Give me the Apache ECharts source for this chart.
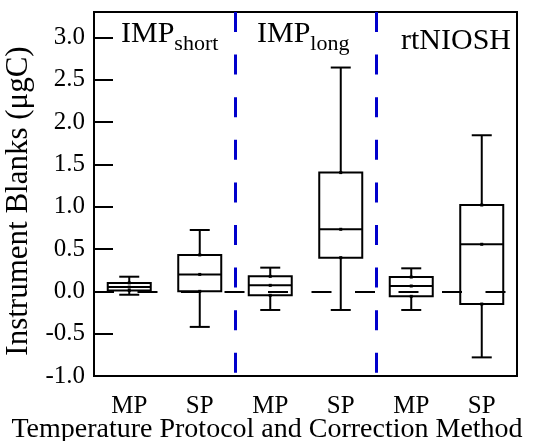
<!DOCTYPE html>
<html>
<head>
<meta charset="utf-8">
<script src="https://cdn.jsdelivr.net/npm/echarts@6/dist/echarts.min.js"></script>
<style>
  html, body { margin: 0; padding: 0; background: #fff; }
  #chart { width: 534px; height: 441px; }
</style>
</head>
<body>
<div id="chart"></div>
<script>
var categories = ['MP', 'SP', 'MP', 'SP', 'MP', 'SP'];
var whiskerLow = [-0.04, -0.42, -0.22, -0.22, -0.22, -0.78];
var quartile1 = [0.01, 0.0, -0.047, 0.398, -0.059, -0.15];
var medians = [0.05, 0.20, 0.071, 0.733, 0.063, 0.556];
var quartile3 = [0.10, 0.43, 0.177, 1.403, 0.169, 1.02];
var whiskerHigh = [0.173, 0.725, 0.28, 2.644, 0.272, 1.844];
var dividers = [2, 4];

var serif = 'Liberation Serif, Times New Roman, serif';

var boxData = [];
for (var i = 0; i < categories.length; i++) {
    boxData.push([i, whiskerLow[i], quartile1[i], medians[i], quartile3[i], whiskerHigh[i]]);
}

function renderBox(params, api) {
    var i = api.value(0);
    var lo = api.coord([i, api.value(1)]);
    var b1 = api.coord([i, api.value(2)]);
    var md = api.coord([i, api.value(3)]);
    var b3 = api.coord([i, api.value(4)]);
    var hi = api.coord([i, api.value(5)]);
    var bw = api.size([1, 0])[0] * 0.61;
    var cw = 20;
    var x = md[0];
    var st = { stroke: '#000', lineWidth: 2, fill: 'none' };
    function dot(y) {
        return { type: 'rect', shape: { x: x - 1.5, y: y - 1.5, width: 3, height: 3 }, style: { fill: '#000' } };
    }
    return {
        type: 'group',
        children: [
            { type: 'rect', shape: { x: x - bw / 2, y: b3[1], width: bw, height: b1[1] - b3[1] }, style: st },
            { type: 'line', shape: { x1: x - bw / 2, y1: md[1], x2: x + bw / 2, y2: md[1] }, style: st },
            { type: 'line', shape: { x1: x, y1: b3[1], x2: x, y2: hi[1] }, style: st },
            { type: 'line', shape: { x1: x, y1: b1[1], x2: x, y2: lo[1] }, style: st },
            { type: 'line', shape: { x1: x - cw / 2, y1: hi[1], x2: x + cw / 2, y2: hi[1] }, style: st },
            { type: 'line', shape: { x1: x - cw / 2, y1: lo[1], x2: x + cw / 2, y2: lo[1] }, style: st },
            dot(b3[1]), dot(md[1]), dot(b1[1])
        ]
    };
}

var chart = echarts.init(document.getElementById('chart'));

var dividerLines = dividers.map(function (d) {
    return [{ coord: [d, 3.3] }, { coord: [d, -1] }];
});

var groupRich = {
    m: { fontFamily: serif, fontSize: 30, fontWeight: 'normal', color: '#000', lineHeight: 30, verticalAlign: 'top' },
    s: { fontFamily: serif, fontSize: 22, fontWeight: 'normal', color: '#000', lineHeight: 20, verticalAlign: 'top', padding: [14, 0, 0, 0] }
};

chart.setOption({
    animation: false,
    backgroundColor: '#fff',
    title: [
        {
            text: '{m|IMP}{s|short}', left: 121, top: 19, padding: 0,
            textStyle: { fontWeight: 'normal', rich: groupRich }
        },
        {
            text: '{m|IMP}{s|long}', left: 257, top: 19, padding: 0,
            textStyle: { fontWeight: 'normal', rich: groupRich }
        },
        {
            text: 'rtNIOSH', left: 401, top: 26, padding: 0,
            textStyle: { fontFamily: serif, fontSize: 30, fontWeight: 'normal', color: '#000' }
        },
        {
            text: 'Temperature Protocol and Correction Method', left: 'center', top: 416, padding: 0,
            textStyle: { fontFamily: serif, fontSize: 28, fontWeight: 'normal', color: '#000' }
        }
    ],
    grid: {
        left: 94, right: 17, top: 12, bottom: 65,
        outerBoundsMode: 'none',
        containLabel: false,
        show: true, borderColor: '#000', borderWidth: 2
    },
    xAxis: [
        {
            type: 'category',
            data: categories,
            axisLine: { onZero: false, lineStyle: { color: '#000', width: 2 } },
            axisTick: { show: false },
            axisLabel: { color: '#000', fontFamily: serif, fontSize: 25, margin: 18 },
            splitLine: { show: false }
        },
        {
            type: 'value', min: 0, max: 6, show: false
        }
    ],
    yAxis: {
        type: 'value',
        min: -1, max: 3.3, interval: 0.5,
        name: 'Instrument Blanks (μgC)',
        nameLocation: 'middle',
        nameGap: 51,
        nameTextStyle: { color: '#000', fontFamily: serif, fontSize: 31, padding: [0, 14, 0, 0] },
        axisLine: { show: true, lineStyle: { color: '#000', width: 2 } },
        axisTick: { show: true, inside: true, length: 19, lineStyle: { color: '#000', width: 2 } },
        axisLabel: {
            color: '#000', fontFamily: serif, fontSize: 25, margin: 9,
            showMaxLabel: false,
            formatter: function (v) { return v.toFixed(1); }
        },
        splitLine: { show: false }
    },
    series: [
        {
            type: 'line',
            xAxisIndex: 1,
            data: [],
            markLine: {
                silent: true,
                symbol: ['none', 'none'],
                label: { show: false },
                lineStyle: { color: '#000', width: 2, type: [20, 23.5] },
                data: [[{ coord: [0, 0] }, { coord: [6, 0] }]]
            }
        },
        {
            type: 'line',
            xAxisIndex: 1,
            data: [],
            markLine: {
                silent: true,
                symbol: ['none', 'none'],
                label: { show: false },
                lineStyle: { color: '#0000cc', width: 3, type: [20, 22.6] },
                data: dividerLines
            }
        },
        {
            type: 'custom',
            xAxisIndex: 0,
            renderItem: renderBox,
            encode: { x: 0, y: [1, 2, 3, 4, 5] },
            data: boxData
        }
    ]
});
</script>
</body>
</html>
